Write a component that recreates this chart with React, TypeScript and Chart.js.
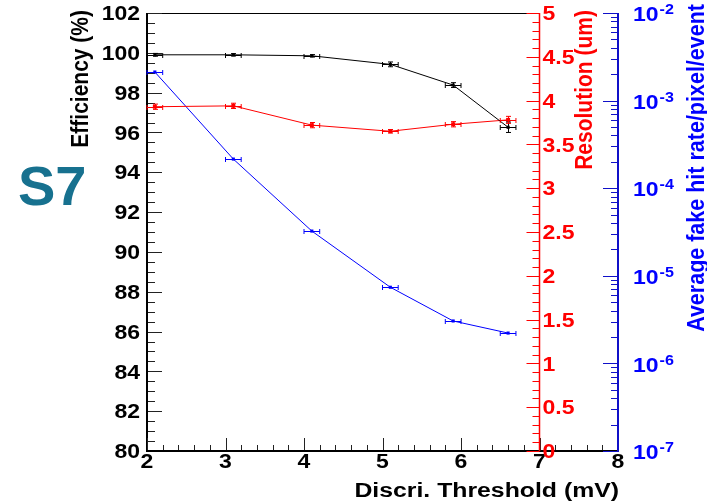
import React, { useEffect, useRef } from 'react';
import { Chart, registerables } from 'chart.js';

Chart.register(...registerables);

// Discriminator threshold scan of sensor S7
const thresholds = [2.1, 3.1, 4.1, 5.1, 5.9, 6.6];
const thresholdErr = [0.1, 0.1, 0.1, 0.1, 0.1, 0.1];
const efficiency = [99.9, 99.9, 99.85, 99.42, 98.38, 96.26];
const efficiencyErr = [0.07, 0.06, 0.06, 0.12, 0.12, 0.26];
const resolution = [3.93, 3.94, 3.72, 3.65, 3.73, 3.78];
const resolutionErr = [0.03, 0.03, 0.03, 0.02, 0.03, 0.04];
const fakeRate = [2.12e-3, 2.15e-4, 3.24e-5, 7.4e-6, 3.05e-6, 2.22e-6];

// Axis ranges and tick labels
const xRange = [2, 8];
const xTicks = [2, 3, 4, 5, 6, 7, 8];
const effRange = [80, 102];
const effTicks = [80, 82, 84, 86, 88, 90, 92, 94, 96, 98, 100, 102];
const resRange = [0, 5];
const resTicks = [0, 0.5, 1, 1.5, 2, 2.5, 3, 3.5, 4, 4.5, 5];
const fakeExponents = [-7, -6, -5, -4, -3, -2];

const FONT = '"Liberation Sans", Arial, Helvetica, sans-serif';
const BLACK = '#000000';
const RED = '#ff0000';
const BLUE = '#0000ff';
const BLUE_AXIS = '#1010c8';
const TEAL = '#17718f';

function stretchedText(
  ctx: CanvasRenderingContext2D,
  text: string,
  x: number,
  y: number,
  align: CanvasTextAlign,
  sx: number
) {
  ctx.save();
  ctx.translate(x, y);
  ctx.scale(sx, 1);
  ctx.textAlign = align;
  ctx.textBaseline = 'alphabetic';
  ctx.fillText(text, 0, 0);
  ctx.restore();
}

function rotatedTitle(
  ctx: CanvasRenderingContext2D,
  text: string,
  baselineX: number,
  topY: number,
  size: number,
  color: string
) {
  ctx.save();
  ctx.translate(baselineX, topY);
  ctx.scale(1.1, 1);
  ctx.rotate(-Math.PI / 2);
  ctx.font = `bold ${size}px ${FONT}`;
  ctx.fillStyle = color;
  ctx.textAlign = 'right';
  ctx.textBaseline = 'alphabetic';
  ctx.fillText(text, 0, 0);
  ctx.restore();
}

function line(ctx: CanvasRenderingContext2D, x1: number, y1: number, x2: number, y2: number) {
  ctx.beginPath();
  ctx.moveTo(x1, y1);
  ctx.lineTo(x2, y2);
  ctx.stroke();
}

// ROOT-style frame: ticks drawn inward, three vertical axes
const axesPlugin = {
  id: 'rootAxes',
  beforeDatasetsDraw(chart: any) {
    const ctx: CanvasRenderingContext2D = chart.ctx;
    const { x, yEff, yRes, yFake } = chart.scales;
    const left = x.getPixelForValue(xRange[0]);
    const right = x.getPixelForValue(xRange[1]);
    const top = yEff.getPixelForValue(effRange[1]);
    const bottom = yEff.getPixelForValue(effRange[0]);
    const resX = x.getPixelForValue(7);

    ctx.save();
    ctx.lineCap = 'butt';

    // top frame line
    ctx.strokeStyle = BLACK;
    ctx.lineWidth = 1;
    line(ctx, left, top + 0.5, resX, top + 0.5);

    // left efficiency axis
    ctx.strokeStyle = '#222';
    ctx.lineWidth = 1;
    for (let v = effRange[0]; v <= effRange[1] + 1e-9; v += 0.5) {
      const y = Math.round(yEff.getPixelForValue(v)) + 0.5;
      const len = Math.abs(v % 2) < 1e-9 ? 15 : 8;
      line(ctx, left, y, left + len, y);
    }
    ctx.strokeStyle = BLACK;
    ctx.lineWidth = 2;
    line(ctx, left, top, left, bottom + 1);

    // bottom threshold axis
    ctx.strokeStyle = '#222';
    ctx.lineWidth = 1;
    for (let v = xRange[0]; v <= xRange[1] + 1e-9; v += 0.2) {
      const px = Math.round(x.getPixelForValue(v)) + 0.5;
      const len = Math.abs(v - Math.round(v)) < 1e-6 ? 13 : 6;
      line(ctx, px, bottom, px, bottom - len);
    }
    ctx.strokeStyle = BLACK;
    ctx.lineWidth = 2;
    line(ctx, left - 1, bottom, right, bottom);

    // resolution axis at threshold 7
    ctx.strokeStyle = RED;
    ctx.lineWidth = 1;
    for (let v = resRange[0]; v <= resRange[1] + 1e-9; v += 0.1) {
      const y = Math.round(yRes.getPixelForValue(v)) + 0.5;
      const major = Math.abs(v * 2 - Math.round(v * 2)) < 1e-6;
      line(ctx, resX, y, resX - (major ? 13 : 7), y);
    }
    ctx.lineWidth = 1.5;
    line(ctx, resX, top, resX, bottom);

    // fake hit rate axis (log)
    ctx.strokeStyle = BLUE_AXIS;
    ctx.lineWidth = 1;
    for (let e = fakeExponents[0]; e <= fakeExponents[fakeExponents.length - 1]; e++) {
      for (let m = 1; m <= 9; m++) {
        const v = m * Math.pow(10, e);
        if (e === fakeExponents[fakeExponents.length - 1] && m > 1) break;
        const y = Math.round(yFake.getPixelForValue(v)) + 0.5;
        line(ctx, right, y, right - (m === 1 ? 15 : 7), y);
      }
    }
    ctx.lineWidth = 2;
    line(ctx, right, top, right, bottom + 1);

    ctx.restore();
  },
};

// Error bars with end caps
const errorBarPlugin = {
  id: 'errorBars',
  afterDatasetsDraw(chart: any) {
    const ctx: CanvasRenderingContext2D = chart.ctx;
    const xs = chart.scales.x;
    const series = [
      { scale: chart.scales.yEff, values: efficiency, errors: efficiencyErr, color: BLACK },
      { scale: chart.scales.yRes, values: resolution, errors: resolutionErr, color: RED },
      { scale: chart.scales.yFake, values: fakeRate, errors: null as number[] | null, color: BLUE },
    ];
    ctx.save();
    ctx.lineWidth = 1;
    series.forEach((s) => {
      ctx.strokeStyle = s.color;
      thresholds.forEach((t, i) => {
        const y = Math.round(s.scale.getPixelForValue(s.values[i])) + 0.5;
        const x1 = xs.getPixelForValue(t - thresholdErr[i]);
        const x2 = xs.getPixelForValue(t + thresholdErr[i]);
        line(ctx, x1, y, x2, y);
        line(ctx, x1, y - 2.5, x1, y + 2.5);
        line(ctx, x2, y - 2.5, x2, y + 2.5);
        if (s.errors) {
          const px = Math.round(xs.getPixelForValue(t)) + 0.5;
          const y1 = s.scale.getPixelForValue(s.values[i] - s.errors[i]);
          const y2 = s.scale.getPixelForValue(s.values[i] + s.errors[i]);
          line(ctx, px, y1, px, y2);
          line(ctx, px - 2.5, y1, px + 2.5, y1);
          line(ctx, px - 2.5, y2, px + 2.5, y2);
        }
      });
    });
    ctx.restore();
  },
};

function fmtRes(v: number) {
  return Number.isInteger(v) ? String(v) : v.toFixed(1);
}

// Tick labels, axis titles and the sensor label
const labelPlugin = {
  id: 'rootLabels',
  afterDraw(chart: any) {
    const ctx: CanvasRenderingContext2D = chart.ctx;
    const { x, yEff, yRes, yFake } = chart.scales;
    const left = x.getPixelForValue(xRange[0]);
    const right = x.getPixelForValue(xRange[1]);
    const bottom = yEff.getPixelForValue(effRange[0]);
    const top = yEff.getPixelForValue(effRange[1]);
    const resX = x.getPixelForValue(7);
    const tickSize = 20;
    const capShift = tickSize * 0.36;

    ctx.save();
    ctx.font = `bold ${tickSize}px ${FONT}`;

    ctx.fillStyle = BLACK;
    effTicks.forEach((v) => {
      stretchedText(ctx, String(v), left - 7, yEff.getPixelForValue(v) + capShift, 'right', 1.15);
    });
    xTicks.forEach((v) => {
      stretchedText(ctx, String(v), x.getPixelForValue(v), bottom + 17, 'center', 1.15);
    });

    ctx.fillStyle = RED;
    resTicks.forEach((v) => {
      stretchedText(ctx, fmtRes(v), resX + 3, yRes.getPixelForValue(v) + capShift, 'left', 1.15);
    });

    ctx.fillStyle = BLUE;
    fakeExponents.forEach((e) => {
      const y = yFake.getPixelForValue(Math.pow(10, e)) + capShift + 1;
      const lx = right + 15;
      ctx.font = `bold ${tickSize}px ${FONT}`;
      stretchedText(ctx, '10', lx, y, 'left', 1.15);
      const w = ctx.measureText('10').width * 1.15;
      ctx.font = `bold 14px ${FONT}`;
      stretchedText(ctx, '-' + String(-e), lx + w + 1, y - 7, 'left', 1.15);
    });

    // axis titles
    rotatedTitle(ctx, 'Efficiency (%)', 88, top - 3, 21, BLACK);
    rotatedTitle(ctx, 'Resolution (um)', 592, top - 3, 21, RED);
    rotatedTitle(ctx, 'Average fake hit rate/pixel/event', 704, top - 9, 21.5, BLUE);

    ctx.fillStyle = BLACK;
    ctx.font = `bold 20px ${FONT}`;
    stretchedText(ctx, 'Discri. Threshold (mV)', right + 1, 497, 'right', 1.24);

    // sensor label
    ctx.fillStyle = TEAL;
    ctx.font = `bold 56px ${FONT}`;
    ctx.textAlign = 'left';
    ctx.textBaseline = 'alphabetic';
    ctx.fillText('S7', 18, 205);

    ctx.restore();
  },
};

export default function App() {
  const canvasRef = useRef<HTMLCanvasElement | null>(null);

  useEffect(() => {
    if (!canvasRef.current) return;
    const pts = (vals: number[]) => thresholds.map((t, i) => ({ x: t, y: vals[i] }));
    const chart = new Chart(canvasRef.current, {
      type: 'line',
      data: {
        datasets: [
          {
            label: 'Efficiency (%)',
            data: pts(efficiency),
            yAxisID: 'yEff',
            borderColor: BLACK,
            backgroundColor: BLACK,
            borderWidth: 1,
            pointStyle: 'rect',
            pointRadius: 2.2,
            pointBorderWidth: 0,
            tension: 0,
          },
          {
            label: 'Resolution (um)',
            data: pts(resolution),
            yAxisID: 'yRes',
            borderColor: RED,
            backgroundColor: RED,
            borderWidth: 1,
            pointStyle: 'rect',
            pointRadius: 2.8,
            pointBorderWidth: 0,
            tension: 0,
          },
          {
            label: 'Average fake hit rate/pixel/event',
            data: pts(fakeRate),
            yAxisID: 'yFake',
            borderColor: BLUE,
            backgroundColor: BLUE,
            borderWidth: 1,
            pointStyle: 'rect',
            pointRadius: 2.2,
            pointBorderWidth: 0,
            tension: 0,
          },
        ],
      },
      options: {
        responsive: false,
        animation: false,
        events: [],
        layout: { padding: { left: 147, right: 89, top: 13, bottom: 53 } },
        plugins: { legend: { display: false }, tooltip: { enabled: false }, title: { display: false } },
        scales: {
          x: { type: 'linear', min: xRange[0], max: xRange[1], display: false },
          yEff: { type: 'linear', position: 'left', min: effRange[0], max: effRange[1], display: false },
          yRes: { type: 'linear', position: 'right', min: resRange[0], max: resRange[1], display: false },
          yFake: { type: 'logarithmic', position: 'right', min: 1e-7, max: 1e-2, display: false },
        },
      },
      plugins: [axesPlugin, errorBarPlugin, labelPlugin],
    });
    return () => chart.destroy();
  }, []);

  return (
    <div style={{ position: 'absolute', left: 0, top: 0, width: 707, height: 504, background: '#ffffff' }}>
      <canvas ref={canvasRef} width={707} height={504} style={{ display: 'block' }} />
    </div>
  );
}
